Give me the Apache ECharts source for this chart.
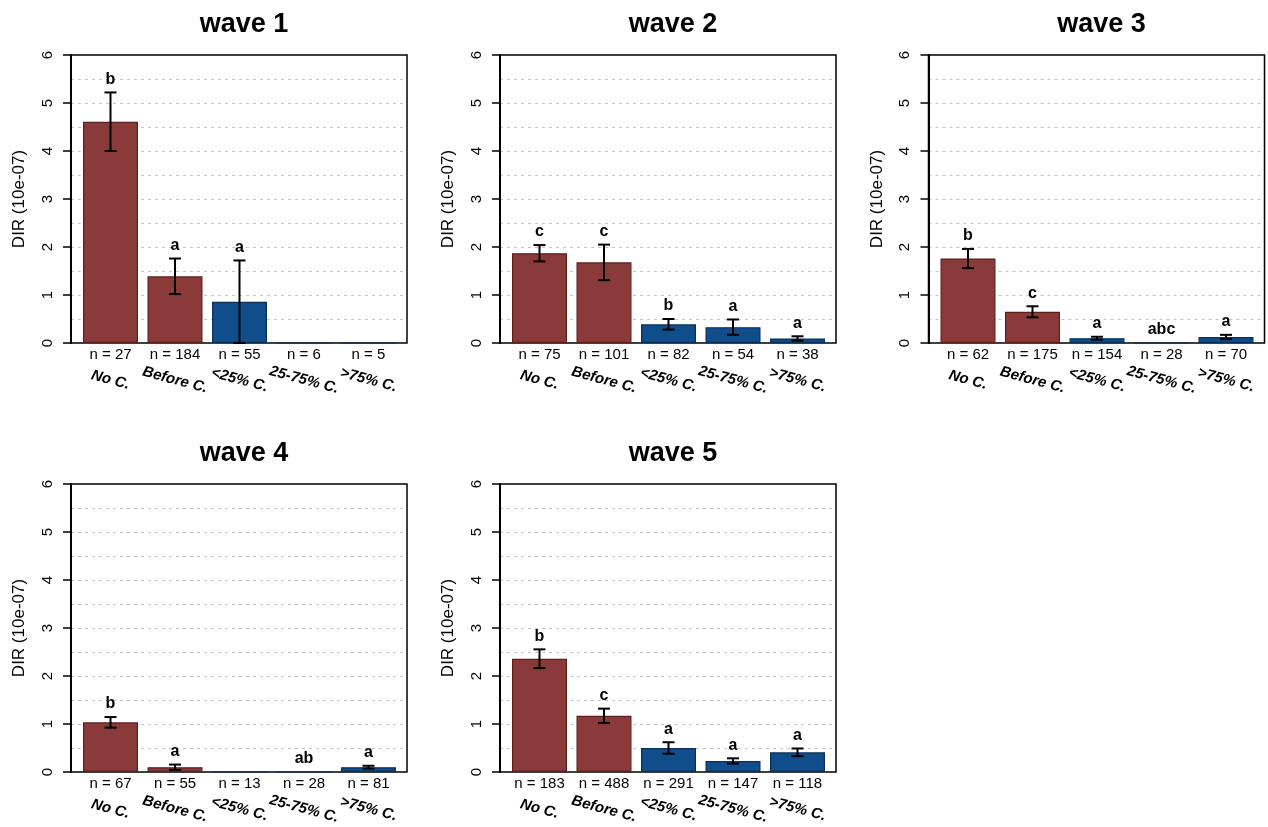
<!DOCTYPE html>
<html>
<head>
<meta charset="utf-8">
<script src="https://cdn.jsdelivr.net/npm/echarts@6/dist/echarts.min.js"></script>
<style>
html,body{margin:0;padding:0;background:#fff;}
#chart{width:1268px;height:827px;}
</style>
</head>
<body>
<div id="chart"></div>
<script>
// ---- data ----
const categories = ['No C.', 'Before C.', '<25% C.', '25-75% C.', '>75% C.'];
const waveTitles = ['wave 1', 'wave 2', 'wave 3', 'wave 4', 'wave 5'];
const yTicks = [0, 1, 2, 3, 4, 5, 6];

const wave1Mean = [4.61, 1.39, 0.86, 0, 0];
const wave1SE   = [0.61, 0.37, 0.86, 0, 0];
const wave1N    = [27, 184, 55, 6, 5];
const wave1Let  = ['b', 'a', 'a', '', ''];

const wave2Mean = [1.87, 1.68, 0.39, 0.33, 0.095];
const wave2SE   = [0.17, 0.37, 0.11, 0.16, 0.045];
const wave2N    = [75, 101, 82, 54, 38];
const wave2Let  = ['c', 'c', 'b', 'a', 'a'];

const wave3Mean = [1.76, 0.65, 0.10, 0, 0.125];
const wave3SE   = [0.20, 0.115, 0.03, 0, 0.045];
const wave3N    = [62, 175, 154, 28, 70];
const wave3Let  = ['b', 'c', 'a', 'abc', 'a'];

const wave4Mean = [1.035, 0.10, 0, 0, 0.10];
const wave4SE   = [0.11, 0.055, 0, 0, 0.03];
const wave4N    = [67, 55, 13, 28, 81];
const wave4Let  = ['b', 'a', '', 'ab', 'a'];

const wave5Mean = [2.36, 1.17, 0.50, 0.23, 0.41];
const wave5SE   = [0.195, 0.15, 0.12, 0.055, 0.08];
const wave5N    = [183, 488, 291, 147, 118];
const wave5Let  = ['b', 'c', 'a', 'a', 'a'];

// ---- build ----
const waves = [
  {mean: wave1Mean, se: wave1SE, n: wave1N, let: wave1Let},
  {mean: wave2Mean, se: wave2SE, n: wave2N, let: wave2Let},
  {mean: wave3Mean, se: wave3SE, n: wave3N, let: wave3Let},
  {mean: wave4Mean, se: wave4SE, n: wave4N, let: wave4Let},
  {mean: wave5Mean, se: wave5SE, n: wave5N, let: wave5Let}
];

const RED = '#8B3A3A', RED_B = '#5E1E1E';
const BLUE = '#104E8B', BLUE_B = '#0A2F58';
const FONT = 'Liberation Sans, Arial, Helvetica, sans-serif';

const colLeft = [71, 500, 928.5];
const rowTop = [55, 484];
const boxW = 336, boxH = 288;
const inset = 7.25, dataW = 322.5;

const option = {
  backgroundColor: '#fff',
  animation: false,
  title: [], grid: [], xAxis: [], yAxis: [], series: []
};

waves.forEach((w, i) => {
  const L = colLeft[i % 3], T = rowTop[Math.floor(i / 3)];
  const gF = option.grid.length, gD = gF + 1;
  option.title.push({
    text: waveTitles[i], left: L + boxW / 2, top: T - 49, textAlign: 'center',
    textStyle: {fontFamily: FONT, fontSize: 27, fontWeight: 'bold', color: '#000'}
  });
  option.grid.push({left: L, top: T, width: boxW, height: boxH, show: true,
    borderColor: '#000', borderWidth: 1.5, backgroundColor: 'transparent', containLabel: false});
  option.grid.push({left: L + inset, top: T, width: dataW, height: boxH, containLabel: false});

  // frame axes
  const xF = option.xAxis.length;
  option.xAxis.push({gridIndex: gF, type: 'value', min: 0, max: 1, show: false});
  const yF = option.yAxis.length;
  option.yAxis.push({
    gridIndex: gF, type: 'value', min: yTicks[0], max: yTicks[yTicks.length - 1], interval: 1,
    name: 'DIR (10e-07)', nameLocation: 'middle', nameGap: 43,
    nameTextStyle: {fontFamily: FONT, fontSize: 17, color: '#000'},
    axisLine: {show: true, lineStyle: {color: '#000', width: 2}},
    axisTick: {show: true, length: 8, lineStyle: {color: '#000', width: 1.5}},
    axisLabel: {rotate: 90, margin: 16, fontFamily: FONT, fontSize: 15, color: '#000'},
    splitLine: {show: true, showMinLine: false, showMaxLine: false,
      lineStyle: {color: '#c4c4c4', type: [3, 4], width: 1.2}},
    minorTick: {show: false, splitNumber: 2},
    minorSplitLine: {show: true, lineStyle: {color: '#c4c4c4', type: [3, 4], width: 1.2}}
  });
  option.series.push({type: 'line', xAxisIndex: xF, yAxisIndex: yF, data: [], silent: true});

  // data axes
  const xD = option.xAxis.length;
  option.xAxis.push({
    gridIndex: gD, type: 'category', data: categories, position: 'bottom', offset: 0,
    axisLine: {show: false}, axisTick: {show: false},
    axisLabel: {interval: 0, rotate: -15, margin: 37, align: 'center', verticalAlign: 'middle',
      fontFamily: FONT, fontSize: 15, fontWeight: 'bold', fontStyle: 'italic', color: '#000'}
  });
  option.xAxis.push({
    gridIndex: gD, type: 'category', data: w.n.map(v => 'n = ' + v), position: 'bottom', offset: 0,
    axisLine: {show: false}, axisTick: {show: false},
    axisLabel: {interval: 0, margin: 4, fontFamily: FONT, fontSize: 15, color: '#000'}
  });
  const yD = option.yAxis.length;
  option.yAxis.push({gridIndex: gD, type: 'value', min: 0, max: 6, show: false});

  option.series.push({
    type: 'bar', xAxisIndex: xD, yAxisIndex: yD, barWidth: 55, z: 3,
    data: w.mean.map((v, k) => ({value: v, itemStyle: {
      color: k < 2 ? RED : BLUE, borderColor: k < 2 ? RED_B : BLUE_B, borderWidth: 1.2}}))
  });
  option.series.push({
    type: 'custom', xAxisIndex: xD, yAxisIndex: yD, z: 5,
    data: w.mean.map((v, k) => [k, Math.max(0, v - w.se[k]), v + w.se[k], w.se[k]]),
    renderItem: function (params, api) {
      if (api.value(3) <= 0) return null;
      const lo = api.coord([api.value(0), api.value(1)]);
      const hi = api.coord([api.value(0), api.value(2)]);
      const hw = 6;
      const st = {stroke: '#000', lineWidth: 2};
      return {type: 'group', children: [
        {type: 'line', shape: {x1: lo[0], y1: lo[1], x2: hi[0], y2: hi[1]}, style: st},
        {type: 'line', shape: {x1: hi[0] - hw, y1: hi[1], x2: hi[0] + hw, y2: hi[1]}, style: st},
        {type: 'line', shape: {x1: lo[0] - hw, y1: lo[1], x2: lo[0] + hw, y2: lo[1]}, style: st}
      ]};
    }
  });
  option.series.push({
    type: 'scatter', xAxisIndex: xD, yAxisIndex: yD, symbolSize: 0, z: 6,
    itemStyle: {opacity: 1},
    data: w.mean.map((v, k) => [k, v + w.se[k]]),
    label: {show: true, position: 'top', distance: 5,
      formatter: p => w.let[p.dataIndex],
      fontFamily: FONT, fontSize: 16, fontWeight: 'bold', color: '#000', opacity: 1}
  });
});

const chart = echarts.init(document.getElementById('chart'), null, {renderer: 'canvas'});
chart.setOption(option);
</script>
</body>
</html>
